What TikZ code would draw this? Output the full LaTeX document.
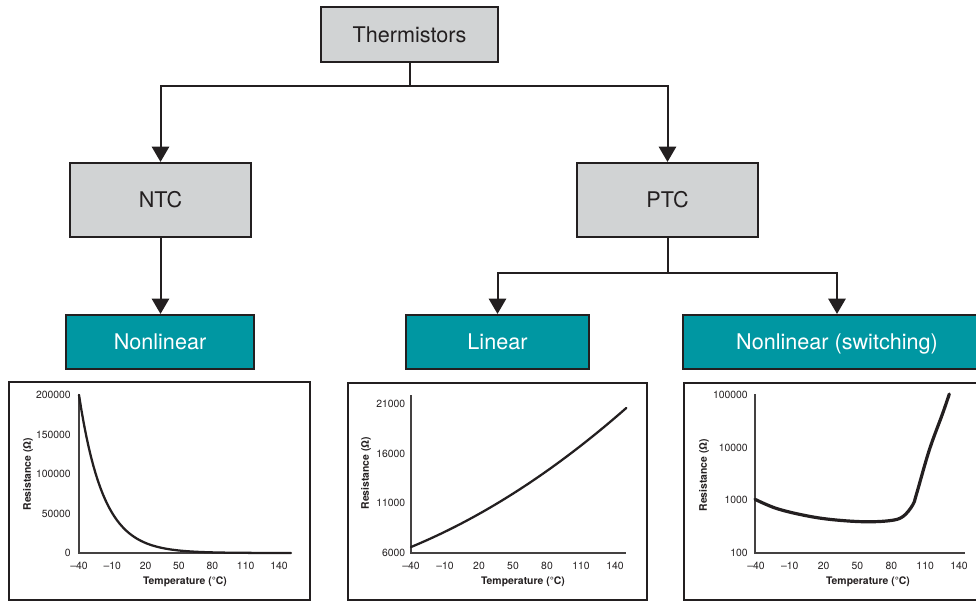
\documentclass[tikz,border=0pt]{standalone}
\usepackage{fontspec}
\setmainfont{TeX Gyre Heros}
\usetikzlibrary{arrows.meta}
\definecolor{boxgray}{RGB}{209,211,212}
\definecolor{thermteal}{RGB}{0,151,162}
\definecolor{edge}{RGB}{35,31,32}
\tikzset{
  catbox/.style={draw=edge, line width=1.6pt, fill=boxgray, text=edge, inner sep=0pt,
    text height=11.7pt, text depth=0pt, font=\fontsize{16.2}{19}\selectfont},
  typebox/.style={draw=edge, line width=1.6pt, fill=thermteal, text=white, inner sep=0pt,
    text height=11.7pt, text depth=0pt,
    minimum height=40.5pt, font=\fontsize{16.2}{19}\selectfont},
  link/.style={draw=edge, line width=1.5pt, -{Triangle[width=13pt,length=11.5pt]}},
  frame/.style={draw=edge, line width=1.7pt},
  axisline/.style={draw=edge!85, line width=0.8pt},
  curve/.style={draw=edge, line width=1.7pt, line cap=round, line join=round},
  ticklbl/.style={text=edge, inner sep=0pt, font=\fontsize{7.8}{9}\selectfont},
  axislbl/.style={text=edge, inner sep=0pt, font=\fontsize{7.8}{9}\selectfont\bfseries}
}
\begin{document}
\begin{tikzpicture}[x=0.75pt,y=0.75pt,yscale=-1,xscale=1]
\useasboundingbox (0,0) rectangle (976,601);
\clip (0,0) rectangle (976,601);

% Boxes
\node[catbox, minimum width=132.75pt, minimum height=41.25pt] (therm) at (409.5,34.5) {Thermistors};
\node[catbox, minimum width=135.75pt, minimum height=55.5pt] (ntc) at (160.5,200) {NTC};
\node[catbox, minimum width=135.75pt, minimum height=55.5pt] (ptc) at (667.5,200) {PTC};
\node[typebox, minimum width=141pt] (nlin) at (160,342) {Nonlinear};
\node[typebox, minimum width=137.25pt] (lin) at (497.5,342) {Linear};
\node[typebox, minimum width=231pt] (swi) at (837,342) {Nonlinear (switching)};

% Connectors
\draw[link] (therm.south) -- ++(0,23) -| (ntc.north);
\draw[link] (therm.south) -- ++(0,23) -| (ptc.north);
\draw[link] (ntc.south) -- (ntc.south |- nlin.north);
\draw[link] (ptc.south) -- ++(0,35) -| (lin.north);
\draw[link] (ptc.south) -- ++(0,35) -| (swi.north);

%Chart: NTC nonlinear
\draw[frame] (9,382) rectangle (310,600);
\draw[axisline] (79,394) -- (79,553) -- (291,553);
\foreach \v/\y in {200000/395,150000/434.5,100000/474,50000/513.5,0/553}
  \node[ticklbl, anchor=east] (ntcy\v) at (71,\y) {\v};
\foreach \lab [count=\i] in {--40,--10,20,50,80,110,140}
  \node[ticklbl] (ntcx\i) at ({79+(\i-1)*33.33},566) {\lab};
\node[axislbl] (ntctemp) at (185,582) {Temperature (°C)};
\node[axislbl, rotate=90] (ntcres) at (28,474) {Resistance (Ω)};
\draw[curve] plot[domain=0:212, samples=90] ({79+\x},{553-158*exp(-0.0414*\x)});

%Chart: PTC linear
\draw[frame] (348,383) rectangle (647,600);
\draw[axisline] (411,395) -- (411,553) -- (626,553);
\foreach \v/\y in {21000/404,16000/453.5,11000/503,6000/553}
  \node[ticklbl, anchor=east] (liny\v) at (405.5,\y) {\v};
\foreach \lab [count=\i] in {--40,--10,20,50,80,110,140}
  \node[ticklbl] (linx\i) at ({411+(\i-1)*34},566) {\lab};
\node[axislbl] (lintemp) at (523,582) {Temperature (°C)};
\node[axislbl, rotate=90] (linres) at (366,473) {Resistance (Ω)};
\draw[curve] plot[domain=0:190, samples=60] ({411+1.133*\x},{547-0.4678*\x-0.001388*\x*\x});

%Chart: PTC switching
\draw[frame] (684,383) rectangle (990,600);
\draw[axisline] (755,394) -- (755,553) -- (965,553);
\foreach \v/\y in {100000/395,10000/447.5,1000/500,100/553}
  \node[ticklbl, anchor=east] (swiy\v) at (748,\y) {\v};
\foreach \lab [count=\i] in {--40,--10,20,50,80,110,140}
  \node[ticklbl] (swix\i) at ({756+(\i-1)*33.83},566) {\lab};
\node[axislbl] (switemp) at (868,582) {Temperature (°C)};
\node[axislbl, rotate=90] (swires) at (704,475) {Resistance (Ω)};
\draw[curve, line width=2.4pt] plot[smooth, tension=0.6] coordinates {(755,499.3) (776,508.3) (802.7,515) (829.3,519.3) (862.7,521.7) (889.3,520.7) (902.7,516.7) (912.7,505) (916.5,494) (929.3,450) (942.7,413.3) (949.3,394)};

\end{tikzpicture}
\end{document}
